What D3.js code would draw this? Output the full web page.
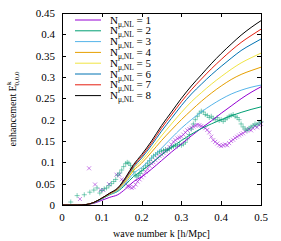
<!DOCTYPE html>
<html>
<head>
<meta charset="utf-8">
<script src="https://cdn.jsdelivr.net/npm/d3@7"></script>
<style>
  body { margin: 0; background: white; }
  svg text { font-family: "Liberation Serif", "DejaVu Serif", serif; fill: #000; }
</style>
</head>
<body>
<svg id="chart" width="281" height="241"></svg>
<script>
// model curves, one per N_mu,NL
const kGrid = [0, 0.04, 0.06, 0.08, 0.1, 0.12, 0.14, 0.16, 0.18, 0.2, 0.225, 0.25, 0.275, 0.3, 0.325, 0.35, 0.375, 0.4, 0.425, 0.45, 0.475, 0.5];
const curveN1 = [0, 0, 0.001, 0.004, 0.011, 0.018, 0.024, 0.038, 0.055, 0.066, 0.084, 0.104, 0.124, 0.143, 0.162, 0.18, 0.197, 0.215, 0.232, 0.249, 0.264, 0.277];
const curveN2 = [0, 0, 0.001, 0.005, 0.014, 0.024, 0.032, 0.048, 0.067, 0.08, 0.098, 0.117, 0.135, 0.151, 0.166, 0.179, 0.19, 0.2, 0.209, 0.217, 0.224, 0.23];
const curveN3 = [0, 0, 0.001, 0.006, 0.015, 0.025, 0.034, 0.052, 0.074, 0.088, 0.11, 0.133, 0.157, 0.18, 0.2, 0.218, 0.234, 0.248, 0.26, 0.269, 0.276, 0.281];
const curveN4 = [0, 0, 0.001, 0.006, 0.016, 0.026, 0.036, 0.056, 0.081, 0.098, 0.124, 0.151, 0.176, 0.2, 0.222, 0.243, 0.262, 0.279, 0.294, 0.306, 0.315, 0.323];
const curveN5 = [0, 0, 0.001, 0.006, 0.016, 0.026, 0.037, 0.058, 0.085, 0.104, 0.132, 0.162, 0.19, 0.217, 0.242, 0.263, 0.283, 0.301, 0.318, 0.333, 0.345, 0.356];
const curveN6 = [0, 0, 0.001, 0.006, 0.016, 0.027, 0.038, 0.061, 0.089, 0.11, 0.14, 0.173, 0.203, 0.233, 0.26, 0.283, 0.305, 0.325, 0.344, 0.362, 0.376, 0.389];
const curveN7 = [0, 0, 0.001, 0.006, 0.016, 0.027, 0.039, 0.063, 0.092, 0.114, 0.145, 0.18, 0.211, 0.242, 0.27, 0.295, 0.319, 0.341, 0.362, 0.381, 0.397, 0.412];
const curveN8 = [0, 0, 0.001, 0.006, 0.016, 0.028, 0.04, 0.065, 0.095, 0.118, 0.15, 0.186, 0.218, 0.25, 0.279, 0.305, 0.331, 0.355, 0.377, 0.398, 0.416, 0.432];
const legendLabels = ["1", "2", "3", "4", "5", "6", "7", "8"];

// measured points (x = N1, + = N2)
const crossK = [0.045, 0.068, 0.083, 0.097, 0.104, 0.118, 0.137, 0.144, 0.15, 0.155, 0.16, 0.165, 0.17, 0.175, 0.18, 0.185, 0.19, 0.195, 0.2, 0.205, 0.21, 0.215, 0.22, 0.225, 0.23, 0.235, 0.24, 0.245, 0.25, 0.255, 0.26, 0.265, 0.27, 0.275, 0.28, 0.285, 0.29, 0.295, 0.3, 0.305, 0.31, 0.315, 0.32, 0.325, 0.33, 0.335, 0.34, 0.345, 0.35, 0.355, 0.36, 0.365, 0.37, 0.375, 0.38, 0.385, 0.39, 0.395, 0.4, 0.405, 0.41, 0.415, 0.42, 0.425, 0.43, 0.435, 0.44, 0.445, 0.45, 0.455, 0.46, 0.465, 0.47, 0.475, 0.48, 0.485, 0.49, 0.495, 0.5];
const crossV = [0.014, 0.086, 0.048, 0.035, 0.035, 0.049, 0.071, 0.071, 0.06, 0.055, 0.05, 0.045, 0.042, 0.04, 0.042, 0.048, 0.055, 0.06, 0.065, 0.07, 0.078, 0.085, 0.092, 0.097, 0.1, 0.105, 0.11, 0.115, 0.118, 0.122, 0.126, 0.13, 0.136, 0.142, 0.148, 0.152, 0.156, 0.158, 0.16, 0.165, 0.17, 0.175, 0.178, 0.181, 0.184, 0.186, 0.188, 0.187, 0.185, 0.183, 0.18, 0.176, 0.17, 0.16, 0.152, 0.148, 0.144, 0.14, 0.138, 0.14, 0.142, 0.14, 0.145, 0.15, 0.153, 0.157, 0.16, 0.163, 0.166, 0.168, 0.172, 0.175, 0.178, 0.175, 0.18, 0.185, 0.182, 0.188, 0.19];
const plusK = [0.022, 0.038, 0.056, 0.07, 0.08, 0.088, 0.095, 0.1, 0.106, 0.112, 0.118, 0.124, 0.13, 0.135, 0.14, 0.145, 0.15, 0.155, 0.16, 0.164, 0.168, 0.172, 0.176, 0.18, 0.184, 0.188, 0.192, 0.196, 0.2, 0.205, 0.21, 0.215, 0.22, 0.225, 0.23, 0.235, 0.24, 0.245, 0.25, 0.255, 0.26, 0.265, 0.27, 0.275, 0.28, 0.285, 0.29, 0.295, 0.3, 0.305, 0.31, 0.315, 0.32, 0.325, 0.33, 0.335, 0.34, 0.345, 0.35, 0.355, 0.36, 0.365, 0.37, 0.375, 0.38, 0.385, 0.39, 0.395, 0.4, 0.405, 0.41, 0.415, 0.42, 0.425, 0.43, 0.435, 0.44, 0.445, 0.45, 0.455, 0.46, 0.465, 0.47, 0.475, 0.48, 0.485, 0.49, 0.495, 0.5];
const plusV = [0.007, 0.022, 0.024, 0.03, 0.035, 0.04, 0.028, 0.034, 0.038, 0.04, 0.045, 0.05, 0.055, 0.06, 0.07, 0.075, 0.082, 0.09, 0.097, 0.1, 0.098, 0.093, 0.085, 0.078, 0.07, 0.066, 0.07, 0.074, 0.08, 0.086, 0.092, 0.098, 0.104, 0.11, 0.115, 0.118, 0.122, 0.125, 0.127, 0.128, 0.13, 0.129, 0.132, 0.135, 0.137, 0.14, 0.138, 0.142, 0.14, 0.143, 0.147, 0.155, 0.165, 0.178, 0.19, 0.2, 0.208, 0.215, 0.22, 0.218, 0.212, 0.21, 0.205, 0.208, 0.203, 0.2, 0.205, 0.198, 0.2, 0.196, 0.2, 0.204, 0.208, 0.21, 0.212, 0.208, 0.205, 0.2, 0.19, 0.183, 0.178, 0.175, 0.18, 0.183, 0.186, 0.19, 0.188, 0.192, 0.195];

const xTicks = [0, 0.1, 0.2, 0.3, 0.4, 0.5];
const yTicks = [0, 0.05, 0.1, 0.15, 0.2, 0.25, 0.3, 0.35, 0.4, 0.45];

const curves = [curveN1, curveN2, curveN3, curveN4, curveN5, curveN6, curveN7, curveN8];
const colors = ["#9400d3", "#009e73", "#56b4e9", "#e69f00", "#f0e442", "#0072b2", "#e51e10", "#000000"];

const padL = 62, padR = 261, padT = 13, padB = 205;
const x = d3.scaleLinear().domain([0, 0.5]).range([padL, padR]);
const y = d3.scaleLinear().domain([0, 0.45]).range([padB, padT]);

const svg = d3.select("#chart");

// points first, lines on top
const pts = svg.append("g");
crossK.forEach((k, i) => {
  const cx = x(k), cy = y(crossV[i]), s = 2;
  pts.append("path")
    .attr("d", `M${cx - s},${cy - s}L${cx + s},${cy + s}M${cx - s},${cy + s}L${cx + s},${cy - s}`)
    .attr("stroke", colors[0]).attr("stroke-opacity", 0.55).attr("stroke-width", 0.9);
});
plusK.forEach((k, i) => {
  const cx = x(k), cy = y(plusV[i]), s = 2.5;
  pts.append("path")
    .attr("d", `M${cx - s},${cy}L${cx + s},${cy}M${cx},${cy - s}L${cx},${cy + s}`)
    .attr("stroke", colors[1]).attr("stroke-opacity", 0.55).attr("stroke-width", 0.9);
});

const line = d3.line().x((d, i) => x(kGrid[i])).y(d => y(d)).curve(d3.curveMonotoneX);
curves.forEach((c, i) => {
  svg.append("path")
    .attr("d", line(c))
    .attr("fill", "none")
    .attr("stroke", colors[i])
    .attr("stroke-width", 1);
});

// axes, gnuplot style: inward ticks mirrored on all sides
const ax = svg.append("g").attr("stroke", "#000").attr("stroke-width", 1);
const tl = 4;
xTicks.forEach(t => {
  const px = Math.round(x(t)) + 0.5;
  ax.append("line").attr("x1", px).attr("x2", px).attr("y1", padB).attr("y2", padB - tl);
  ax.append("line").attr("x1", px).attr("x2", px).attr("y1", padT).attr("y2", padT + tl);
  svg.append("text").attr("x", x(t)).attr("y", padB + 16)
    .attr("text-anchor", "middle").attr("font-size", 11).text(d3.format("")(t));
});
yTicks.forEach(t => {
  const py = Math.round(y(t)) + 0.5;
  ax.append("line").attr("x1", padL).attr("x2", padL + tl).attr("y1", py).attr("y2", py);
  ax.append("line").attr("x1", padR).attr("x2", padR - tl).attr("y1", py).attr("y2", py);
  svg.append("text").attr("x", padL - 7).attr("y", y(t) + 4)
    .attr("text-anchor", "end").attr("font-size", 11).text(d3.format("")(t));
});
svg.append("rect")
  .attr("x", padL + 0.5).attr("y", padT + 0.5)
  .attr("width", padR - padL).attr("height", padB - padT)
  .attr("fill", "none").attr("stroke", "#000").attr("stroke-width", 1);

// axis titles
svg.append("text").attr("x", (padL + padR) / 2).attr("y", 237)
  .attr("text-anchor", "middle").attr("font-size", 10).text("wave number k [h/Mpc]");

const yt = svg.append("text")
  .attr("transform", "translate(16,109) rotate(-90)")
  .attr("text-anchor", "middle").attr("font-size", 10);
yt.append("tspan").text("enhancement E");
yt.append("tspan").attr("font-size", 7).attr("dy", -5).text("k");
yt.append("tspan").attr("font-size", 7).attr("dy", 8).attr("dx", -4).text("0,0,0");

// legend
legendLabels.forEach((lab, i) => {
  const ly = 20 + i * 10.8;
  svg.append("line").attr("x1", 75).attr("x2", 101).attr("y1", ly).attr("y2", ly)
    .attr("stroke", colors[i]).attr("stroke-width", 1);
  const tx = svg.append("text").attr("x", 110).attr("y", ly + 3.5).attr("font-size", 11);
  tx.append("tspan").text("N");
  tx.append("tspan").attr("font-size", 7.5).attr("dy", 3).text("μ,NL");
  tx.append("tspan").attr("dy", -3).text(" = " + lab);
});
</script>
</body>
</html>
